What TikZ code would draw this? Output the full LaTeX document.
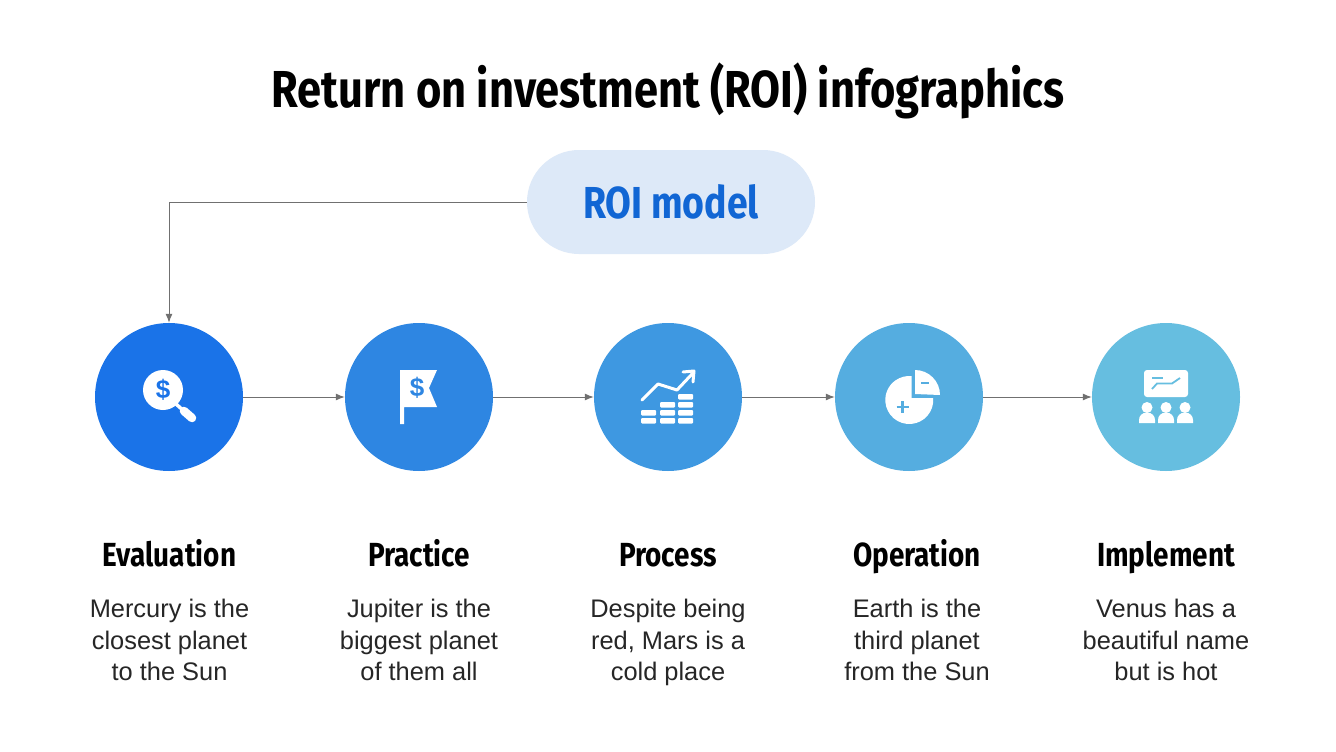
\documentclass[tikz,border=0pt]{standalone}
\usepackage{fontspec}
\setmainfont{Liberation Sans}
\newfontfamily\headfont[FakeStretch=0.835]{Fira Sans}
\newfontfamily\bodyfont{Liberation Sans}
\usetikzlibrary{arrows.meta}
\definecolor{cA}{HTML}{1A73E8}
\definecolor{cB}{HTML}{2E86E2}
\definecolor{cC}{HTML}{3E98E1}
\definecolor{cD}{HTML}{55ADE0}
\definecolor{cE}{HTML}{66BEE0}
\definecolor{pillfill}{HTML}{DDE9F8}
\definecolor{pilltext}{HTML}{1166D4}
\definecolor{linec}{HTML}{707070}
\tikzset{
  x=1pt,y=-1pt,
  stepcircle/.style={circle,minimum size=148pt,inner sep=0pt,draw=none},
  conn/.style={draw=linec,line width=1pt,-{Latex[length=9pt,width=7pt]}},
  headtext/.style={font=\headfont\bfseries\fontsize{33.4}{36}\selectfont,text=black,anchor=base,inner sep=0pt},
  desctext/.style={font=\bodyfont\fontsize{25.4}{31.5}\selectfont,text=black!85,align=center,anchor=north,inner sep=0pt},
  dollar/.style={font=\bodyfont\bfseries\fontsize{26}{26}\selectfont,inner sep=0pt},
}
\begin{document}
\begin{tikzpicture}
\useasboundingbox (0,0) rectangle (1336,752);
\fill[white] (0,0) rectangle (1336,752);
\node[font=\headfont\bfseries\fontsize{52}{56}\selectfont,inner sep=0pt,anchor=base] (title) at (668,107) {Return on investment (ROI) infographics};
\node[fill=pillfill,rounded corners=52pt,minimum width=288pt,minimum height=104pt,inner sep=0pt] (pill) at (671,202) {};
\node[font=\headfont\bfseries\fontsize{44.8}{46}\selectfont,text=pilltext,inner sep=0pt,anchor=base] (pilltxt) at (671,218) {ROI model};
\node[stepcircle,fill=cA] (c1) at (169,397) {};
\node[stepcircle,fill=cB] (c2) at (419,397) {};
\node[stepcircle,fill=cC] (c3) at (668,397) {};
\node[stepcircle,fill=cD] (c4) at (909,397) {};
\node[stepcircle,fill=cE] (c5) at (1166,397) {};
\draw[conn] (pill.west) -| (c1.north);
\draw[conn] (c1) -- (c2);
\draw[conn] (c2) -- (c3);
\draw[conn] (c3) -- (c4);
\draw[conn] (c4) -- (c5);
% icon 1
\fill[white] (163,390) circle[radius=20];
\draw[white,line width=8.5pt,line cap=round] (184,411) -- (192,418);
\draw[white,line width=3.5pt] (176,404) -- (185,412);
\node[dollar,text=cA] (d1) at (163,390) {\$};
% icon 2
\fill[white] (400,370) -- (437,370) -- (429,388) -- (437,407) -- (404,407) -- (404,424) -- (400,424) -- cycle;
\node[dollar,text=cB] (d2) at (417,388) {\$};
% icon 3
\draw[white,line width=3pt,line cap=round,line join=round] (642,400) -- (658,384) -- (677,390) -- (693,373);
\draw[white,line width=3pt,line cap=round,line join=round] (683,372) -- (694,371) -- (693,382);
\foreach \xa/\ya in {641/418,641/410,660/418,660/410,660/402,678/418,678/410,678/402,678/394}{
  \fill[white,rounded corners=1pt] (\xa,\ya) rectangle ++(15,5.5);
}
% icon 4
\fill[white] (933.2,398) arc[start angle=-4.8,end angle=275.7,radius=24] -- (911.7,398) -- cycle;
\fill[white] (915,370) arc[start angle=-90,end angle=0,radius=25] -- (915,394) -- cycle;
\draw[cD,line width=2.2pt] (896.5,407) -- (908.5,407) (902.5,401) -- (902.5,413);
\draw[cD,line width=2.2pt] (921,383) -- (929,383);
% icon 5
\fill[white,rounded corners=3pt] (1144,370) rectangle (1188,397);
\draw[cE,line width=1.8pt] (1152,378) -- (1163,378);
\draw[cE,line width=1.8pt] (1152,389) -- (1157,383.5) -- (1172,383.5) -- (1180,378);
\foreach \xc in {1147,1166,1185}{
  \fill[white] (\xc,407.5) circle[radius=5.5];
  \fill[white] (\xc-8,423) -- (\xc-8,420) .. controls (\xc-8,416) and (\xc-5,412.5) .. (\xc,412.5) .. controls (\xc+5,412.5) and (\xc+8,416) .. (\xc+8,420) -- (\xc+8,423) -- cycle;
}
% labels
\node[headtext] (h1) at (169.5,566) {Evaluation};
\node[headtext] (h2) at (419,566) {Practice};
\node[headtext] (h3) at (668,566) {Process};
\node[headtext] (h4) at (917,566) {Operation};
\node[headtext] (h5) at (1166,566) {Implement};
\node[desctext] (t1) at (169.5,599) {Mercury is the\\closest planet\\to the Sun};
\node[desctext] (t2) at (419,599) {Jupiter is the\\biggest planet\\of them all};
\node[desctext] (t3) at (668,599) {Despite being\\red, Mars is a\\cold place};
\node[desctext] (t4) at (917,599) {Earth is the\\third planet\\from the Sun};
\node[desctext] (t5) at (1166,599) {Venus has a\\beautiful name\\but is hot};
\end{tikzpicture}
\end{document}
